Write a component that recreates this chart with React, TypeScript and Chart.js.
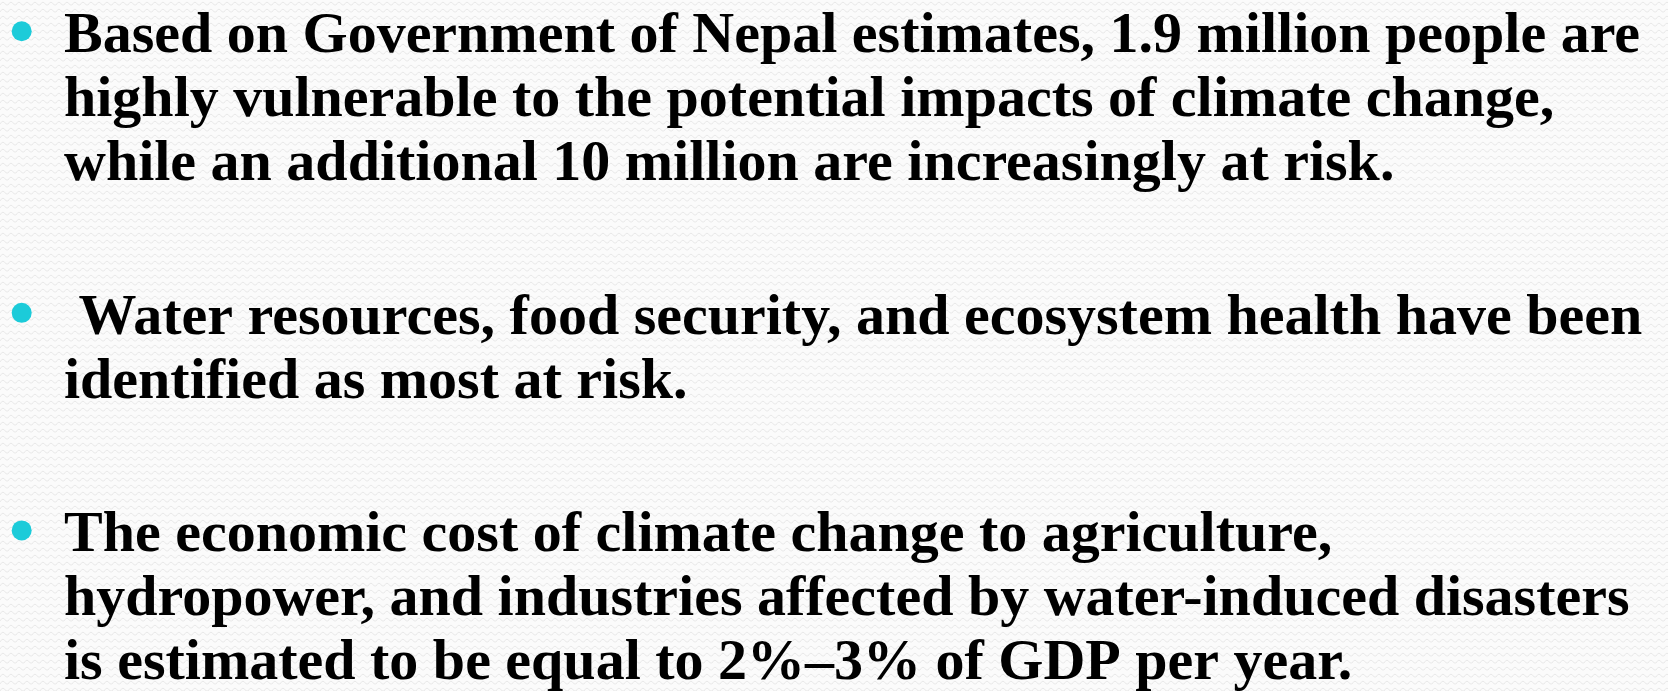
import React, { useEffect, useRef } from "react";
import { Chart, registerables } from "chart.js";

Chart.register(...registerables);

// Text lines of the slide, one per row
const lineTexts: string[] = [
  "Based on Government of Nepal estimates, 1.9 million people are",
  "highly vulnerable to the potential impacts of climate change,",
  "while an additional 10 million are increasingly at risk.",
  " Water resources, food security, and ecosystem health have been",
  "identified as most at risk.",
  "The economic cost of climate change to agriculture,",
  "hydropower, and industries affected by water-induced disasters",
  "is estimated to be equal to 2%–3% of GDP per year.",
];
// Row position of each line (in line units)
const linePositions: number[] = [0, 1, 2, 4.4, 5.4, 7.8, 8.8, 9.8];
// Bullets sit on the first line of each paragraph
const bulletPositions: number[] = [-0.09, 4.31, 7.71];
const bulletX = 1.3;

const W = 1668;
const H = 691;

function makePattern(): CanvasPattern | string {
  const c = document.createElement("canvas");
  c.width = 8;
  c.height = 7;
  const g = c.getContext("2d");
  if (!g) return "#fafafa";
  g.fillStyle = "#fbfbfb";
  g.fillRect(0, 0, 8, 7);
  g.strokeStyle = "#e9e9e9";
  g.lineWidth = 1;
  g.beginPath();
  g.moveTo(0, 5);
  g.quadraticCurveTo(2, 1, 4, 2.5);
  g.quadraticCurveTo(6, 6, 8, 5);
  g.stroke();
  const p = g.createPattern(c, "repeat");
  return p || "#fafafa";
}

const bgPlugin = {
  id: "slideBg",
  beforeDraw(chart: any) {
    const ctx = chart.ctx;
    ctx.save();
    ctx.fillStyle = makePattern();
    ctx.fillRect(0, 0, chart.width, chart.height);
    ctx.restore();
  },
};

export default function App() {
  const ref = useRef<HTMLCanvasElement | null>(null);
  useEffect(() => {
    if (!ref.current) return;
    const chart = new Chart(ref.current, {
      type: "scatter",
      data: {
        datasets: [
          {
            data: bulletPositions.map((y) => ({ x: bulletX, y })),
            pointRadius: 10,
            pointHoverRadius: 10,
            backgroundColor: "#1ccbd9",
            borderWidth: 0,
            clip: false as any,
          },
        ],
      },
      options: {
        animation: false,
        responsive: false,
        layout: { padding: 0, autoPadding: false },
        plugins: {
          legend: { display: false },
          tooltip: { enabled: false },
        },
        scales: {
          x: { type: "linear", min: 0, max: 100, display: false },
          y: {
            type: "linear",
            reverse: true,
            min: -0.578,
            max: 10.219,
            grid: { display: false, drawTicks: false },
            border: { display: false },
            afterBuildTicks: (scale: any) => {
              scale.ticks = linePositions.map((v) => ({ value: v }));
            },
            afterFit: (scale: any) => {
              scale.width = 0;
              scale.paddingTop = 0;
              scale.paddingBottom = 0;
            },
            ticks: {
              mirror: true,
              padding: 64,
              crossAlign: "near",
              autoSkip: false,
              color: "#000000",
              font: {
                family: '"Liberation Serif", serif',
                weight: "bold",
                size: 58,
                lineHeight: 1,
              },
              callback: (_v: any, i: number) => lineTexts[i],
            },
          },
        },
      },
      plugins: [bgPlugin],
    });
    return () => chart.destroy();
  }, []);
  return (
    <div style={{ position: "fixed", left: 0, top: 0, width: W, height: H }}>
      <canvas ref={ref} width={W} height={H} style={{ display: "block" }} />
    </div>
  );
}
